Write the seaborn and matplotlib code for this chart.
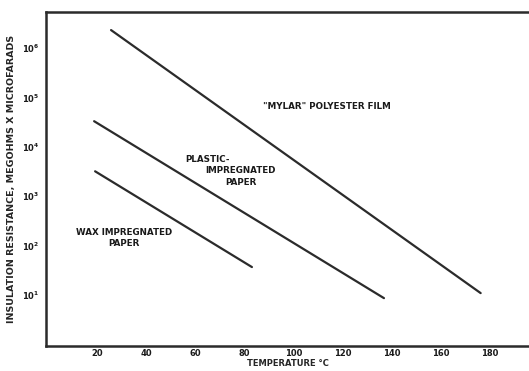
import matplotlib
matplotlib.use('Agg')
import matplotlib.pyplot as plt
import seaborn as sns
import pandas as pd
from matplotlib.ticker import FixedLocator, FixedFormatter

# endpoints (temperature C, insulation resistance)
MATERIALS = ['MYLAR', 'PLASTIC', 'WAX']
MYLAR_TEMP = [25.7, 176.3]
MYLAR_RES = [2.3e6, 11]
PLASTIC_TEMP = [18.8, 136.9]
PLASTIC_RES = [3.3e4, 8.7]
WAX_TEMP = [19.2, 83.1]
WAX_RES = [3.2e3, 37]

X_TICKS = [20, 40, 60, 80, 100, 120, 140, 160, 180]
Y_TICKS = [1e1, 1e2, 1e3, 1e4, 1e5, 1e6]
Y_TICK_LABELS = [r'$\mathbf{10^{%d}}$' % n for n in range(1, 7)]

df = pd.DataFrame({
    'temp': MYLAR_TEMP + PLASTIC_TEMP + WAX_TEMP,
    'res': MYLAR_RES + PLASTIC_RES + WAX_RES,
    'material': [m for m in MATERIALS for _ in range(2)],
})

sns.set_style('white')
plt.rcParams['font.family'] = ['DejaVu Sans']

fig = plt.figure(figsize=(5.29, 3.71), dpi=100)
ax = fig.add_axes([0.087, 0.067, 0.913, 0.901])

sns.lineplot(data=df, x='temp', y='res', units='material', estimator=None,
             color='#2b2b2b', linewidth=1.6, ax=ax, legend=False)

ax.set_yscale('log')
ax.set_xlim(-0.8, 196)
ax.set_ylim(0.93, 10 ** 6.73)

ax.xaxis.set_major_locator(FixedLocator(X_TICKS))
ax.xaxis.set_major_formatter(FixedFormatter([str(t) for t in X_TICKS]))
ax.yaxis.set_major_locator(FixedLocator(Y_TICKS))
ax.yaxis.set_major_formatter(FixedFormatter(Y_TICK_LABELS))
ax.yaxis.set_minor_locator(FixedLocator([]))
ax.tick_params(axis='both', length=0, labelsize=6, colors='#1a1a1a')
ax.tick_params(axis='x', pad=2)
ax.tick_params(axis='y', pad=5)
for lab in ax.get_xticklabels():
    lab.set_fontweight('bold')

for side in ['left', 'bottom', 'top']:
    ax.spines[side].set_linewidth(1.8)
    ax.spines[side].set_color('#2b2b2b')
ax.spines['right'].set_visible(False)

ax.set_xlabel('TEMPERATURE °C', fontsize=6, fontweight='bold', labelpad=1)
ax.set_ylabel('INSULATION RESISTANCE, MEGOHMS X MICROFARADS',
              fontsize=6.8, fontweight='bold', labelpad=4)

txt = dict(fontsize=6.3, fontweight='bold', color='#1a1a1a')
ax.text(113.6, 10 ** 4.81, '"MYLAR" POLYESTER FILM', ha='center', va='center', **txt)
ax.text(56, 10 ** 3.74, 'PLASTIC-', ha='left', va='center', **txt)
ax.text(78.5, 10 ** 3.40, 'IMPREGNATED\nPAPER', ha='center', va='center',
        linespacing=1.3, **txt)
ax.text(31, 10 ** 2.15, 'WAX IMPREGNATED\nPAPER', ha='center', va='center',
        linespacing=1.3, **txt)

fig.savefig('out.png', dpi=100)
